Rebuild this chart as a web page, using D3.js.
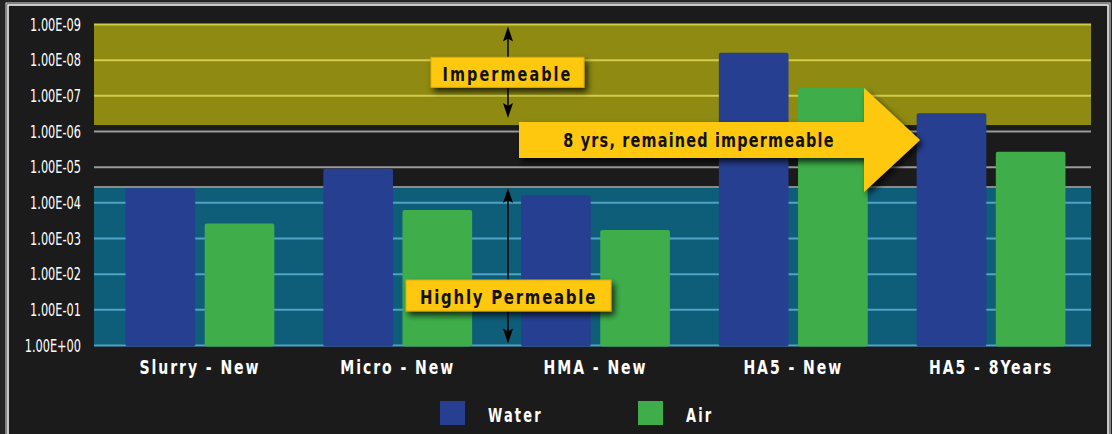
<!DOCTYPE html>
<html>
<head>
<meta charset="utf-8">
<script src="https://cdn.jsdelivr.net/npm/d3@7"></script>
<style>
body { margin: 0; background: #181818; }
svg { display: block; }
text { font-family: "Liberation Sans Narrow", "DejaVu Sans Condensed", sans-serif; }
</style>
</head>
<body>
<svg></svg>
<script>
//data
const categories = ["Slurry - New", "Micro - New", "HMA - New", "HA5 - New", "HA5 - 8Years"];
const seriesNames = ["Water", "Air"];
const water = [3.9e-5, 1.1e-5, 6.0e-5, 6.2e-9, 3.1e-7];
const air = [3.8e-4, 1.6e-4, 5.8e-4, 6.0e-8, 3.7e-6];
const tickValues = [1e-9, 1e-8, 1e-7, 1e-6, 1e-5, 1e-4, 1e-3, 1e-2, 1e-1, 1];
const tickLabels = ["1.00E-09", "1.00E-08", "1.00E-07", "1.00E-06", "1.00E-05",
                    "1.00E-04", "1.00E-03", "1.00E-02", "1.00E-01", "1.00E+00"];
const zoneNames = ["Impermeable", "Highly Permeable"];
const zoneRanges = [[1e-9, 6.6e-7], [3.6e-5, 1]];
const calloutText = "8 yrs, remained impermeable";

//constants
const W = 1112, H = 434;
const margin = {top: 24.5, right: 21, bottom: 88.5, left: 94};
const width = W - margin.left - margin.right;
const height = H - margin.top - margin.bottom;
const colors = {Water: "#263f91", Air: "#3fae4a"};
const zoneFill = ["#8e8a12", "#0e5e79"];
const gridColor = ["#d4cc48", "#4fa3c6", "#9a9a9a"];
const labelYellow = "#fdc80f";

//squeeze text horizontally (the original font is very condensed)
function squeeze(sel, k) {
    sel.each(function() {
        let len = this.getComputedTextLength();
        d3.select(this)
            .attr("textLength", len * k)
            .attr("lengthAdjust", "spacingAndGlyphs");
    });
}

let svg = d3.select("svg")
    .attr("width", W)
    .attr("height", H);

//shadow filter
let defs = svg.append("defs");
defs.append("filter")
    .attr("id", "shadow")
    .attr("x", "-20%").attr("y", "-30%")
    .attr("width", "150%").attr("height", "170%")
    .append("feDropShadow")
    .attr("dx", 3).attr("dy", 4)
    .attr("stdDeviation", 3)
    .attr("flood-color", "#000")
    .attr("flood-opacity", 0.75);

//background + frame
svg.append("rect")
    .attr("width", W).attr("height", H)
    .style("fill", "#242424");
svg.append("rect")
    .attr("x", 8).attr("y", 5)
    .attr("width", 1100).attr("height", H)
    .style("fill", "#1b1b1b")
    .style("stroke", "#fff")
    .style("stroke-width", 1.5);
svg.append("rect")
    .attr("x", 6).attr("y", 3)
    .attr("width", 1104).attr("height", H)
    .style("fill", "none")
    .style("stroke", "#ddd")
    .style("stroke-width", 1);

let g = svg.append("g")
    .attr("transform", "translate(" + margin.left + "," + margin.top + ")");

//scales
let yScale = d3.scaleLog()
    .domain([1, 1e-9])
    .range([height, 0]);

let xScale = d3.scaleBand()
    .domain(categories)
    .range([7, width - 1])
    .paddingInner(0.2475)
    .paddingOuter(0.124);

let xSub = d3.scaleBand()
    .domain(seriesNames)
    .range([0, xScale.bandwidth()])
    .paddingInner(0.12);

//zones
g.selectAll(".zone")
    .data(zoneRanges)
    .enter()
    .append("rect")
    .attr("class", "zone")
    .attr("x", 0)
    .attr("width", width)
    .attr("y", d => yScale(d[0]))
    .attr("height", d => yScale(d[1]) - yScale(d[0]))
    .style("fill", (d, i) => zoneFill[i]);

function zoneOf(v) {
    for (let i = 0; i < zoneRanges.length; i++) {
        if (v >= zoneRanges[i][0] && v <= zoneRanges[i][1]) return i;
    }
    return 2;
}

//grid
g.selectAll(".grid")
    .data(tickValues)
    .enter()
    .append("line")
    .attr("class", "grid")
    .attr("x1", 0).attr("x2", width)
    .attr("y1", d => yScale(d)).attr("y2", d => yScale(d))
    .style("stroke", d => gridColor[zoneOf(d)])
    .style("stroke-width", 2);

//top edge of permeable zone
g.append("line")
    .attr("x1", 0).attr("x2", width)
    .attr("y1", yScale(zoneRanges[1][0])).attr("y2", yScale(zoneRanges[1][0]))
    .style("stroke", "#8a8a8a")
    .style("stroke-width", 2);

//y axis
let gY = g.append("g")
    .call(d3.axisLeft(yScale)
        .tickValues(tickValues)
        .tickFormat((d, i) => tickLabels[i])
        .tickSize(0)
        .tickPadding(13));
gY.select(".domain").remove();
gY.selectAll("text")
    .style("fill", "#fff")
    .style("font-size", "18px")
    .style("font-family", "'Liberation Sans Narrow', 'DejaVu Sans Condensed', sans-serif")
    .call(squeeze, 0.7);

//bars
let rows = categories.map((c, i) => ({cat: c, Water: water[i], Air: air[i]}));

let groups = g.selectAll(".group")
    .data(rows)
    .enter()
    .append("g")
    .attr("class", "group")
    .attr("transform", d => "translate(" + xScale(d.cat) + ",0)");

groups.selectAll("rect")
    .data(d => seriesNames.map(s => ({key: s, value: d[s]})))
    .enter()
    .append("rect")
    .attr("x", d => xSub(d.key))
    .attr("width", xSub.bandwidth())
    .attr("y", d => yScale(d.value))
    .attr("height", d => yScale(1) - yScale(d.value) + 1)
    .attr("rx", 2)
    .style("fill", d => colors[d.key]);

//x axis
let gX = g.append("g")
    .attr("transform", "translate(0," + height + ")")
    .call(d3.axisBottom(xScale).tickSize(0).tickPadding(14));
gX.select(".domain").remove();
gX.selectAll("text")
    .style("fill", "#fff")
    .style("font-size", "20px")
    .style("font-weight", "bold")
    .style("letter-spacing", "2.5px")
    .style("font-family", "'Liberation Sans Narrow', 'DejaVu Sans Condensed', sans-serif")
    .call(squeeze, 0.78);

//legend
let legend = svg.append("g")
    .attr("transform", "translate(440,401)");
let items = legend.selectAll(".item")
    .data(seriesNames)
    .enter()
    .append("g")
    .attr("transform", (d, i) => "translate(" + (i * 198) + ",0)");
items.append("rect")
    .attr("width", 25).attr("height", 24)
    .style("fill", d => colors[d]);
items.append("text")
    .attr("x", 48).attr("y", 20.5)
    .style("fill", "#fff")
    .style("font-size", "20px")
    .style("font-weight", "bold")
    .style("letter-spacing", "3px")
    .text(d => d)
    .call(squeeze, 0.72);

//double arrows
const arrowX = 414;
function vArrow(y1, y2) {
    g.append("line")
        .attr("x1", arrowX).attr("x2", arrowX)
        .attr("y1", y1 + 6).attr("y2", y2 - 6)
        .style("stroke", "#000")
        .style("stroke-width", 1.5);
    g.append("path")
        .attr("d", "M" + arrowX + "," + y1 + " l5,15 l-5,-3 l-5,3 Z")
        .style("fill", "#000");
    g.append("path")
        .attr("d", "M" + arrowX + "," + y2 + " l5,-15 l-5,3 l-5,-3 Z")
        .style("fill", "#000");
}
vArrow(yScale(zoneRanges[0][0]) + 2, yScale(zoneRanges[0][1]) - 7);
vArrow(yScale(zoneRanges[1][0]) + 1, yScale(zoneRanges[1][1]) - 2);

//zone labels
const zoneBoxes = [{cx: 413.5, y: 32.8, w: 153, h: 30, base: 56.5},
                   {cx: 414.5, y: 255.5, w: 205, h: 31, base: 279.8}];
zoneNames.forEach((name, i) => {
    let b = zoneBoxes[i];
    g.append("rect")
        .attr("x", b.cx - b.w / 2).attr("y", b.y)
        .attr("width", b.w).attr("height", b.h)
        .style("fill", labelYellow)
        .style("stroke", "#e0a90a")
        .style("stroke-width", 1)
        .attr("filter", "url(#shadow)");
    g.append("text")
        .attr("x", b.cx).attr("y", b.base)
        .style("text-anchor", "middle")
        .style("fill", "#111")
        .style("font-size", "20px")
        .style("font-weight", "bold")
        .style("letter-spacing", i == 0 ? "2.6px" : "2.1px")
        .text(name)
        .call(squeeze, i == 0 ? 0.8 : 0.83);
});

//callout arrow
svg.append("path")
    .attr("d", "M519,122 L864,122 L864,88 L920,140 L864,192 L864,158 L519,158 Z")
    .style("fill", labelYellow)
    .attr("filter", "url(#shadow)");
svg.append("text")
    .attr("x", 699).attr("y", 147)
    .style("text-anchor", "middle")
    .style("fill", "#111")
    .style("font-size", "20px")
    .style("font-weight", "bold")
    .style("letter-spacing", "1.5px")
    .text(calloutText)
    .call(squeeze, 0.8);
</script>
</body>
</html>
